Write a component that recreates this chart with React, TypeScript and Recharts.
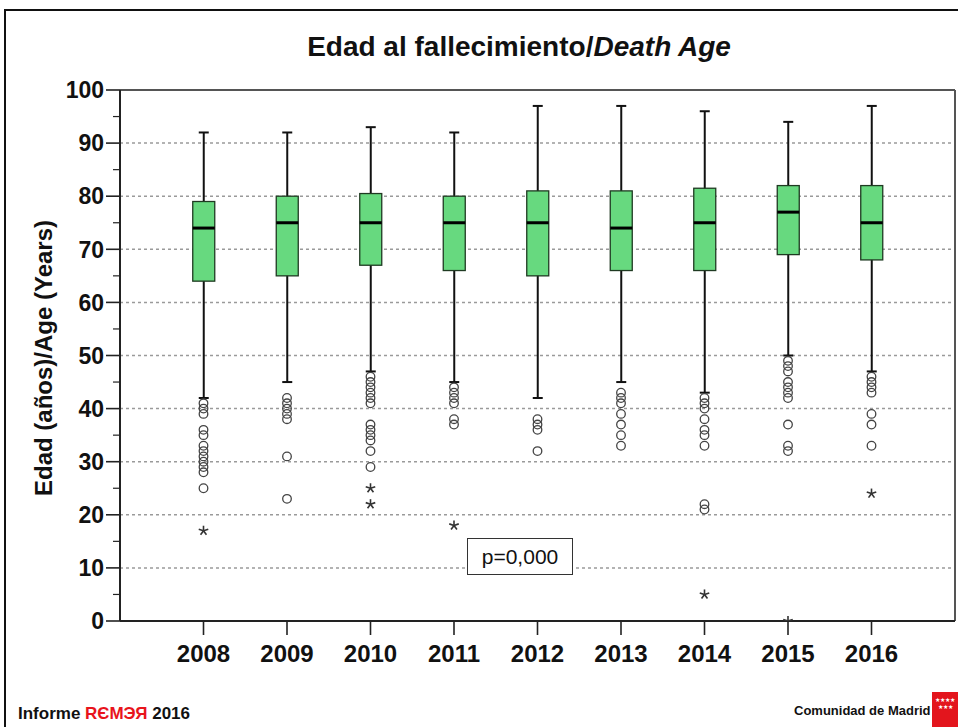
import React from 'react';
import { ComposedChart, Bar, Scatter, XAxis, YAxis, ReferenceLine, CartesianGrid } from 'recharts';

const years = ['2008', '2009', '2010', '2011', '2012', '2013', '2014', '2015', '2016'];
const whiskerLow = [42, 45, 47, 45, 42, 45, 43, 50, 47];
const q1Values = [64, 65, 67, 66, 65, 66, 66, 69, 68];
const medianValues = [74, 75, 75, 75, 75, 74, 75, 77, 75];
const q3Values = [79, 80, 80.5, 80, 81, 81, 81.5, 82, 82];
const whiskerHigh = [92, 92, 93, 92, 97, 97, 96, 94, 97];

const outlierCircles = [
  [41, 40, 39, 36, 35, 33, 32, 31, 30, 29, 28, 25],
  [42, 41, 40, 39, 38, 31, 23],
  [46, 45, 44, 43, 42, 41, 37, 36, 35, 34, 32, 29],
  [44, 43, 42, 41, 38, 37],
  [38, 37, 36, 32],
  [43, 42, 41, 39, 37, 35, 33],
  [42, 41, 40, 38, 36, 35, 33, 22, 21],
  [49, 48, 47, 45, 44, 43, 42, 37, 33, 32],
  [46, 45, 44, 43, 39, 37, 33],
];
const extremeStars = [[17], [], [25, 22], [18], [], [], [5], [0], [24]];

const yTicks = [0, 5, 10, 15, 20, 25, 30, 35, 40, 45, 50, 55, 60, 65, 70, 75, 80, 85, 90, 95, 100];
const gridValues = [10, 20, 30, 40, 50, 60, 70, 80, 90];
const xTicks = [1, 2, 3, 4, 5, 6, 7, 8, 9];

const boxData = years.map((year, i) => ({
  x: i + 1,
  year,
  range: [whiskerLow[i], whiskerHigh[i]],
  q1: q1Values[i],
  med: medianValues[i],
  q3: q3Values[i],
}));
const circleData = outlierCircles.flatMap((vals, i) => vals.map((v) => ({ x: i + 1, y: v })));
const starData = extremeStars.flatMap((vals, i) => vals.map((v) => ({ x: i + 1, y: v })));

const FONT = '"Liberation Sans", Arial, sans-serif';

const BoxShape = (props: any) => {
  const { x, y, width, height, payload } = props;
  if (!payload) return null;
  const [lo, hi] = payload.range;
  const k = height / (hi - lo);
  const py = (v: number) => y + (hi - v) * k;
  const cx = x + width / 2;
  const capW = 10;
  return (
    <g>
      <line x1={cx} x2={cx} y1={py(hi)} y2={py(lo)} stroke="#111" strokeWidth={2} />
      <line x1={cx - capW / 2} x2={cx + capW / 2} y1={py(hi)} y2={py(hi)} stroke="#111" strokeWidth={2} />
      <line x1={cx - capW / 2} x2={cx + capW / 2} y1={py(lo)} y2={py(lo)} stroke="#111" strokeWidth={2} />
      <rect x={x} y={py(payload.q3)} width={width} height={py(payload.q1) - py(payload.q3)} fill="#67d97f" stroke="#1f3a22" strokeWidth={1.3} />
      <line x1={x} x2={x + width} y1={py(payload.med)} y2={py(payload.med)} stroke="#000" strokeWidth={3} />
    </g>
  );
};

const CircleShape = (props: any) => {
  const { cx, cy } = props;
  return <circle cx={cx} cy={cy} r={4.3} fill="none" stroke="#444" strokeWidth={1.3} />;
};

const StarShape = (props: any) => {
  const { cx, cy } = props;
  const r = 5;
  const arms = [0, 1, 2, 3, 4].map((k) => {
    const a = -Math.PI / 2 + (k * 2 * Math.PI) / 5;
    return <line key={k} x1={cx} y1={cy} x2={cx + r * Math.cos(a)} y2={cy + r * Math.sin(a)} stroke="#333" strokeWidth={1.6} />;
  });
  return <g>{arms}</g>;
};

const YTick = (props: any) => {
  const { x, y, payload } = props;
  const v = payload.value;
  const major = v % 10 === 0;
  return (
    <g>
      <line x1={x - (major ? 14 : 7)} x2={x} y1={y} y2={y} stroke="#222" strokeWidth={major ? 1.6 : 1.2} />
      {major && (
        <text x={x - 16} y={y} dy="0.36em" textAnchor="end" fontFamily={FONT} fontWeight="bold" fontSize={23} fill="#111">
          {v}
        </text>
      )}
    </g>
  );
};

const XTick = (props: any) => {
  const { x, y, payload } = props;
  return (
    <text x={x} y={y} dy="0.71em" textAnchor="middle" fontFamily={FONT} fontWeight="bold" fontSize={24} fill="#111">
      {years[payload.value - 1]}
    </text>
  );
};

export default function App() {
  return (
    <div style={{ position: 'absolute', left: 0, top: 0, width: 958, height: 727, background: '#fff', overflow: 'hidden', fontFamily: FONT }}>
      <div style={{ position: 'absolute', left: 4, top: 9, width: 970, height: 740, borderLeft: '2px solid #111', borderTop: '2px solid #111' }} />
      <div style={{ position: 'absolute', left: 0, width: 1038, top: 31, textAlign: 'center', fontSize: 28, fontWeight: 'bold', color: '#111', whiteSpace: 'nowrap' }}>
        Edad al fallecimiento/<i>Death Age</i>
      </div>
      <div style={{ position: 'absolute', left: 44, top: 358, width: 0, height: 0 }}>
        <div style={{ position: 'absolute', transform: 'translate(-50%, -50%) rotate(-90deg)', fontSize: 24, fontWeight: 'bold', color: '#111', whiteSpace: 'nowrap' }}>
          Edad (años)/Age (Years)
        </div>
      </div>
      <div style={{ position: 'absolute', left: 0, top: 0 }}>
        <ComposedChart width={958} height={727} data={boxData} margin={{ top: 90, right: 3, bottom: 66, left: 0 }}>
          <CartesianGrid vertical={false} horizontalValues={gridValues} stroke="#9a9a9a" strokeDasharray="3 3" strokeWidth={1.5} />
          <XAxis
            dataKey="x"
            type="number"
            domain={[0, 10]}
            ticks={xTicks}
            interval={0}
            height={40}
            tickSize={14}
            tickMargin={10}
            tick={<XTick />}
            axisLine={{ stroke: '#222', strokeWidth: 2 }}
            tickLine={{ stroke: '#222', strokeWidth: 1.6 }}
            allowDataOverflow
          />
          <YAxis
            type="number"
            domain={[0, 100]}
            ticks={yTicks}
            interval={0}
            width={120}
            tickSize={0}
            tickMargin={0}
            tickLine={false}
            tick={<YTick />}
            axisLine={{ stroke: '#222', strokeWidth: 2 }}
            allowDataOverflow
          />
          <ReferenceLine y={100} stroke="#555" strokeWidth={2} />
          <ReferenceLine x={10} stroke="#555" strokeWidth={2} />
          <Bar dataKey="range" barSize={22} shape={<BoxShape />} isAnimationActive={false} />
          <Scatter data={circleData} dataKey="y" shape={<CircleShape />} isAnimationActive={false} />
          <Scatter data={starData} dataKey="y" shape={<StarShape />} isAnimationActive={false} />
        </ComposedChart>
      </div>
      <div style={{ position: 'absolute', left: 467, top: 538, width: 106, height: 37, border: '1px solid #333', background: '#fff', fontSize: 21, color: '#111', display: 'flex', alignItems: 'center', justifyContent: 'center', boxSizing: 'border-box' }}>
        p=0,000
      </div>
      <div style={{ position: 'absolute', left: 18, top: 704, fontSize: 17, fontWeight: 'bold', color: '#111', whiteSpace: 'nowrap' }}>
        Informe <span style={{ color: '#e8141c' }}>RЄMЭЯ</span> 2016
      </div>
      <div style={{ position: 'absolute', left: 794, top: 703, fontSize: 13, fontWeight: 'bold', color: '#111', whiteSpace: 'nowrap' }}>
        Comunidad de Madrid
      </div>
      <div style={{ position: 'absolute', left: 932, top: 692, width: 26, height: 36, background: '#e3151d', color: '#fff', fontSize: 6, lineHeight: '7px', paddingTop: 5, textAlign: 'center', boxSizing: 'border-box', overflow: 'hidden' }}>
        ★★★★<br />★★★
      </div>
    </div>
  );
}
